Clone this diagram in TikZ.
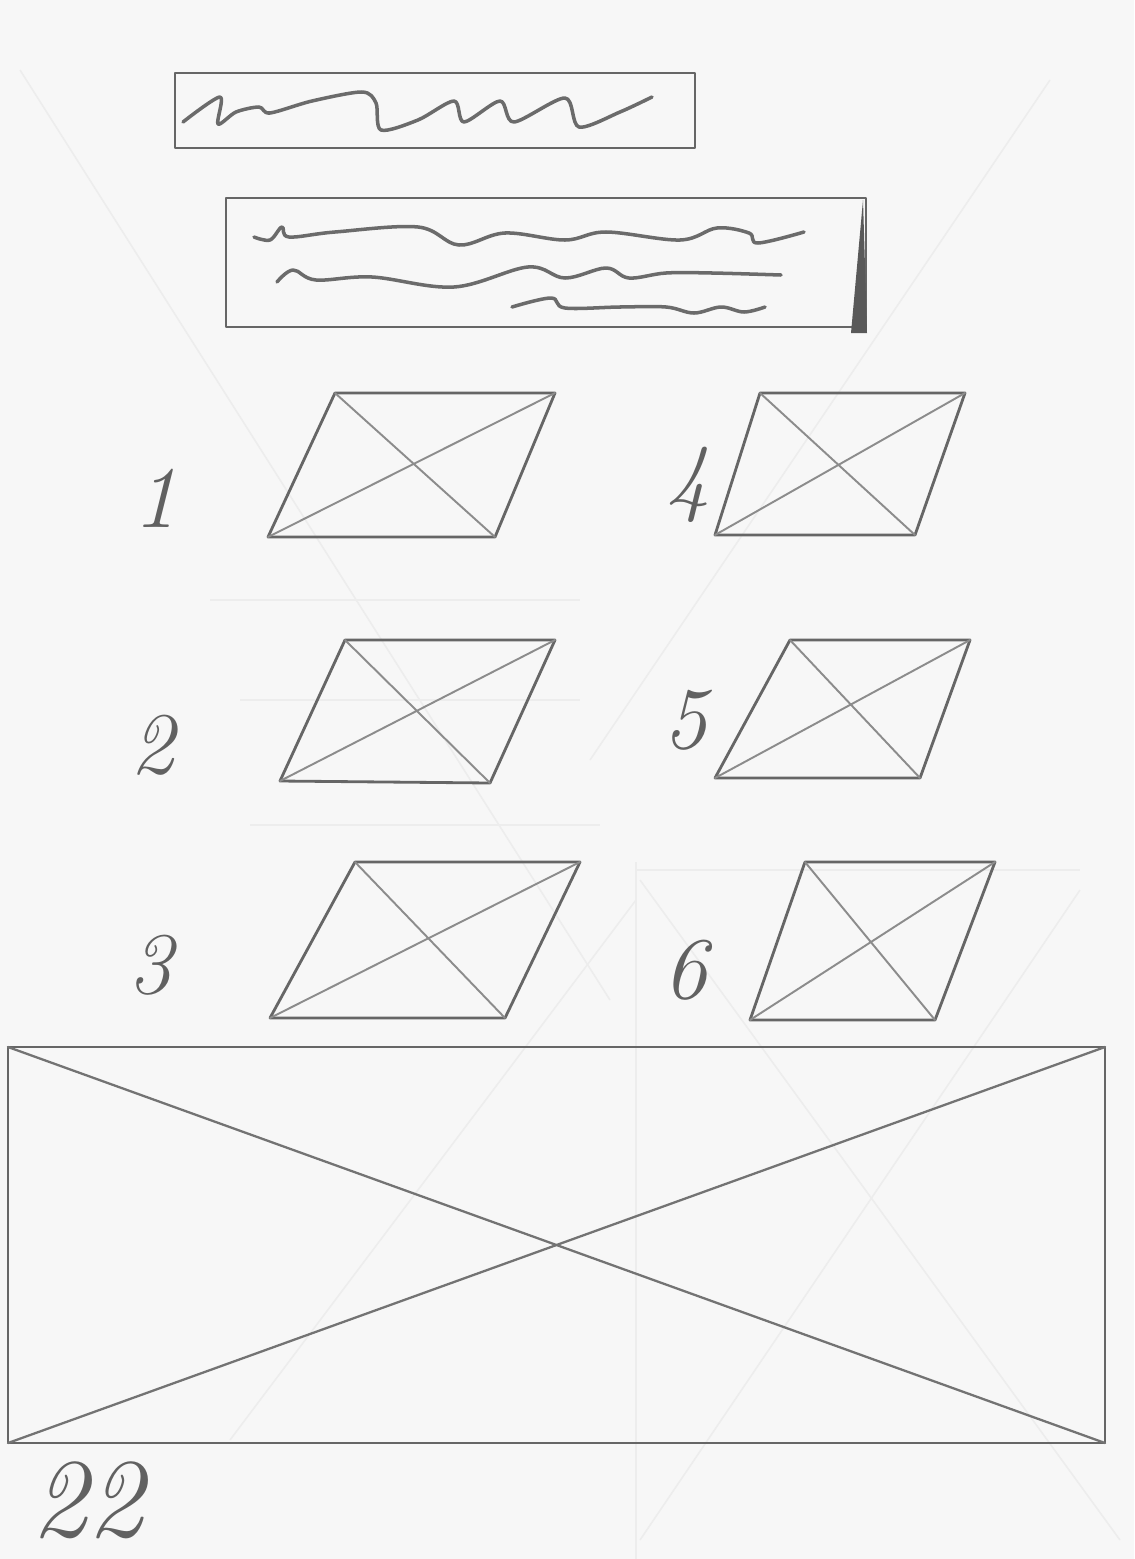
\documentclass[tikz,border=0pt]{standalone}
\begin{document}
\begin{tikzpicture}[x=0.02cm,y=-0.02cm,
  pencil/.style={draw=black!60,line width=1.6pt,line cap=round,line join=round},
  light/.style={draw=black!45,line width=1.1pt,line cap=round},
  ghost/.style={draw=black!7,line width=0.9pt},
  wave/.style={draw=black!58,line width=2pt,line cap=round,line join=round},
  digit/.style={text=black!62,font=\fontsize{50}{52}\selectfont\itshape,inner sep=0pt}]
\fill[black!3] (0,0) rectangle (1134,1559);
\useasboundingbox (0,0) rectangle (1134,1559);
% faint show-through lines
\draw[ghost] (20,70) -- (610,1000);
\draw[ghost] (1050,80) -- (590,760);
\draw[ghost] (636,862) -- (636,1559);
\draw[ghost] (636,870) -- (1080,870);
\draw[ghost] (640,880) -- (1120,1540);
\draw[ghost] (1080,890) -- (640,1540);
\draw[ghost] (230,1440) -- (636,900);
\draw[ghost] (210,600) -- (580,600) (240,700) -- (580,700) (250,825) -- (600,825);
% top box
\coordinate (t1) at (175,73); \coordinate (t2) at (695,148);
\draw[pencil] (t1) rectangle (t2);
\draw[wave] plot[smooth,tension=0.5] coordinates {(183,122) (220,97) (218,124) (236,112) (259,107) (270,113) (312,101) (362,92) (376,103) (381,130) (418,120) (454,101) (464,122) (500,101) (514,122) (565,98) (579,127) (620,112) (652,97)};
% second box
\coordinate (s1) at (226,198); \coordinate (s2) at (866,327);
\draw[pencil] (s1) rectangle (s2);
\fill[black!65] (863,200) -- (851,333) -- (867,333) -- cycle;
\draw[wave] plot[smooth,tension=0.6] coordinates {(254,237) (270,240) (282,227) (289,237) (335,232) (418,227) (459,245) (505,233) (565,240) (606,232) (680,240) (717,228) (749,233) (758,243) (804,232)};
\draw[wave] plot[smooth,tension=0.6] coordinates {(277,282) (293,270) (316,280) (372,277) (454,287) (528,267) (565,278) (606,268) (629,278) (666,273) (712,273) (781,275)};
\draw[wave] plot[smooth,tension=0.6] coordinates {(512,307) (551,298) (565,308) (620,307) (666,307) (694,313) (721,307) (744,312) (765,307)};
% parallelograms
\foreach \n/\ax/\ay/\bx/\by/\cx/\cy/\dx/\dy in {
  1/335/393/555/393/495/537/268/537,
  4/760/393/965/393/915/535/715/535,
  2/345/640/555/640/490/783/280/781,
  5/790/640/970/640/920/778/715/778,
  3/355/862/580/862/505/1018/270/1018,
  6/805/862/995/862/935/1020/750/1020}{
  \coordinate (p\n-a) at (\ax,\ay);
  \coordinate (p\n-b) at (\bx,\by);
  \coordinate (p\n-c) at (\cx,\cy);
  \coordinate (p\n-d) at (\dx,\dy);
  \draw[pencil] (p\n-a) -- (p\n-b) -- (p\n-c) -- (p\n-d) -- cycle;
  \draw[light] (p\n-a) -- (p\n-c) (p\n-d) -- (p\n-b);
}
% labels
\node[digit] (l1) at (155,498) {1};
\node[digit] (l4) at (688,485) {4};
\node[digit] (l2) at (152,745) {2};
\node[digit] (l5) at (685,720) {5};
\node[digit] (l3) at (150,965) {3};
\node[digit] (l6) at (685,970) {6};
% big rectangle
\coordinate (r1) at (8,1047); \coordinate (r2) at (1105,1047);
\coordinate (r3) at (1105,1443); \coordinate (r4) at (8,1443);
\draw[pencil] (r1) -- (r2) -- (r3) -- (r4) -- cycle;
\draw[light,draw=black!55,line width=1.3pt] (r1) -- (r3) (r4) -- (r2);
\node[digit,font=\fontsize{64}{66}\selectfont\itshape] (l22) at (88,1500) {22};
\end{tikzpicture}
\end{document}
